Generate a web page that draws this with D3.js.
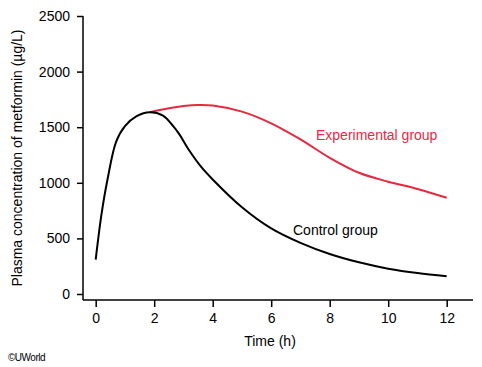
<!DOCTYPE html>
<meta charset="utf-8">
<script src="https://cdn.jsdelivr.net/npm/d3@7"></script>
<style>
body { margin: 0; background: #fff; }
text { font-family: Arial, "Liberation Sans", sans-serif; fill: #000; }
.axis path, .axis line { stroke: #000; stroke-width: 1.5px; }
.axis text { font-size: 14px; font-family: Arial, "Liberation Sans", sans-serif; }
</style>
<body>
<script>
// control group (black)
var controlTime = [0, 0.2, 0.4, 0.7, 1, 1.4, 1.85, 2.3, 2.65, 2.85, 3.2, 3.6, 4, 5, 6, 7, 8, 9, 10, 11, 12];
var controlConc = [310, 720, 1025, 1370, 1510, 1600, 1635, 1605, 1510, 1440, 1290, 1145, 1030, 780, 590, 460, 360, 285, 228, 188, 160];
// experimental group (red)
var expTime = [1.85, 2.5, 3, 3.5, 4, 5, 6, 7, 8, 9, 10, 11, 12];
var expConc = [1635, 1670, 1690, 1700, 1695, 1640, 1535, 1390, 1225, 1090, 1010, 945, 865];
var xTicks = [0, 2, 4, 6, 8, 10, 12];
var yTicks = [0, 500, 1000, 1500, 2000, 2500];

var width = 482, height = 367;
var svg = d3.select("body").append("svg")
    .attr("width", width)
    .attr("height", height);

var x = d3.scaleLinear().domain([0, 12]).range([95.7, 446.7]);
var y = d3.scaleLinear().domain([0, 2500]).range([294, 16]);

// x axis
var xg = svg.append("g").attr("class", "axis")
    .attr("transform", "translate(0,300)")
    .call(d3.axisBottom(x).tickValues(xTicks).tickFormat(d3.format("d")).tickSize(7).tickPadding(6).tickSizeOuter(0));
xg.select(".domain").attr("d", "M83,0H473");

// y axis
var yg = svg.append("g").attr("class", "axis")
    .attr("transform", "translate(83,0)")
    .call(d3.axisLeft(y).tickValues(yTicks).tickFormat(d3.format("d")).tickSize(6).tickPadding(7).tickSizeOuter(0));
yg.select(".domain").attr("d", "M0,16V300");

var line = d3.line()
    .x(function(d) { return x(d[0]); })
    .y(function(d) { return y(d[1]); })
    .curve(d3.curveCatmullRom.alpha(0.5));

svg.append("path")
    .datum(d3.zip(expTime, expConc))
    .attr("d", line)
    .attr("fill", "none")
    .attr("stroke", "#e8283f")
    .attr("stroke-width", 2);

svg.append("path")
    .datum(d3.zip(controlTime, controlConc))
    .attr("d", line)
    .attr("fill", "none")
    .attr("stroke", "#000")
    .attr("stroke-width", 2);

svg.append("text")
    .attr("x", 316).attr("y", 140)
    .style("font-size", "14px")
    .style("fill", "#e8283f")
    .text("Experimental group");

svg.append("text")
    .attr("x", 293).attr("y", 235)
    .style("font-size", "14px")
    .text("Control group");

svg.append("text")
    .attr("x", 270).attr("y", 346)
    .attr("text-anchor", "middle")
    .style("font-size", "14px")
    .text("Time (h)");

svg.append("text")
    .attr("transform", "translate(22,158) rotate(-90)")
    .attr("text-anchor", "middle")
    .style("font-size", "14px")
    .text("Plasma concentration of metformin (µg/L)");

svg.append("text")
    .attr("x", 8).attr("y", 361)
    .style("font-size", "10px")
    .style("letter-spacing", "-0.5px")
    .text("©UWorld");
</script>
</body>
